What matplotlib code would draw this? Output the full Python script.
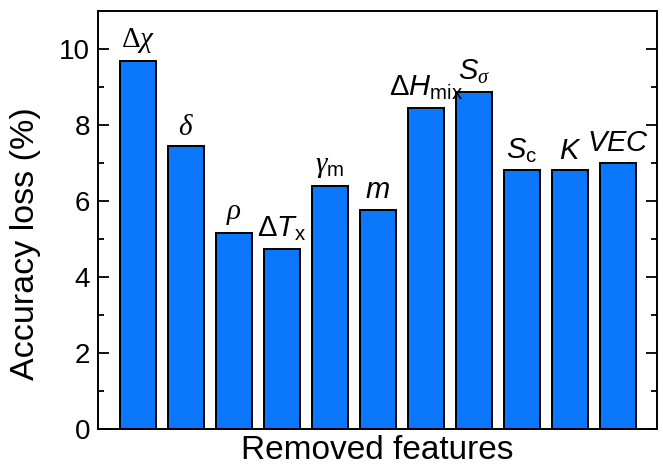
import numpy as np
import matplotlib.pyplot as plt

plt.rcParams['font.family'] = ['Liberation Sans', 'DejaVu Sans']
plt.rcParams['mathtext.fontset'] = 'custom'
plt.rcParams['mathtext.rm'] = 'Liberation Sans'
plt.rcParams['mathtext.it'] = 'Liberation Sans:italic'
# serif faces for the Greek symbols
plt.rcParams['mathtext.cal'] = 'Liberation Serif:italic'
plt.rcParams['mathtext.sf'] = 'Liberation Serif'

features = [r'$\mathsf{\Delta}\mathcal{\chi}$', r'$\mathcal{\delta}$', r'$\mathcal{\rho}$',
            r'$\Delta T_{\mathrm{x}}$', r'$\mathcal{\gamma}_{\mathrm{m}}$', r'$m$',
            r'$\Delta H_{\mathrm{mix}}$', r'$S_{\mathcal{\sigma}}$', r'$S_{\mathrm{c}}$',
            r'$K$', r'$VEC$']
loss = [9.69, 7.44, 5.17, 4.75, 6.40, 5.78, 8.46, 8.87, 6.81, 6.81, 7.01]

fig = plt.figure(figsize=(6.63, 4.69), dpi=100)
ax = fig.add_axes([0.1483, 0.0847, 0.8422, 0.8918])

x = np.arange(len(loss))
ax.bar(x, loss, width=0.745, color='#0B77FA', edgecolor='black', linewidth=1.4)

for xi, v, lab in zip(x, loss, features):
    ax.text(xi, v + 0.15, lab, ha='center', va='bottom', fontsize=21)

ax.set_xlim(-0.82, 10.81)
ax.set_ylim(0, 11)
ax.set_xticks([])
ax.set_yticks(np.arange(0, 11, 2))
ax.set_yticks(np.arange(1, 11, 2), minor=True)
ax.tick_params(axis='y', which='both', direction='in', right=True, labelsize=20, width=1.3, pad=6)
ax.tick_params(axis='y', which='major', length=8)
ax.tick_params(axis='y', which='minor', length=4.5)
for s in ax.spines.values():
    s.set_linewidth(1.4)

ax.set_ylabel('Accuracy loss (%)', fontsize=24.5)
ax.yaxis.set_label_coords(-0.103, 0.445)
ax.set_xlabel('Removed features', fontsize=24, labelpad=4)

fig.savefig('out.png', dpi=100)
